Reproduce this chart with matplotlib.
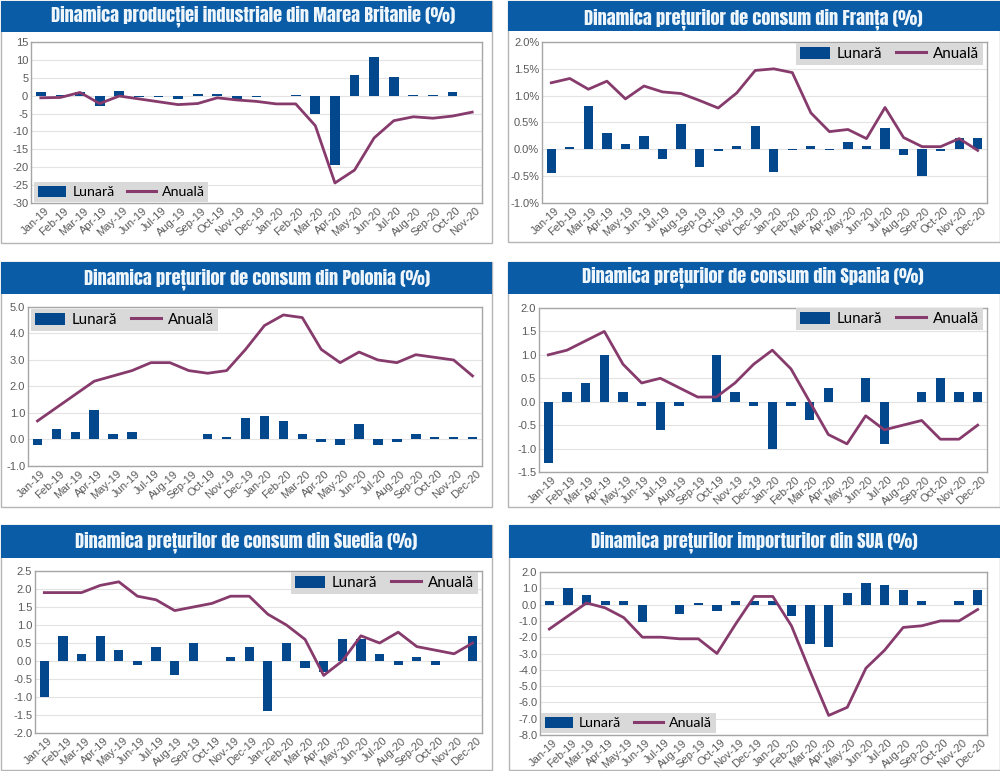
import numpy as np
import matplotlib
matplotlib.use('Agg')
import matplotlib.pyplot as plt
from matplotlib import font_manager as fm
from matplotlib.patches import Rectangle, Patch
from matplotlib.lines import Line2D
from matplotlib.transforms import ScaledTranslation

W, H = 1000, 771

months_20 = ['Jan-19', 'Feb-19', 'Mar-19', 'Apr-19', 'May-19', 'Jun-19', 'Jul-19', 'Aug-19',
             'Sep-19', 'Oct-19', 'Nov-19', 'Dec-19', 'Jan-20', 'Feb-20', 'Mar-20', 'Apr-20',
             'May-20', 'Jun-20', 'Jul-20', 'Aug-20', 'Sep-20', 'Oct-20', 'Nov-20', 'Dec-20']
months_uk = months_20[:-1]

# values
uk_lunara = [1.0, 0.1, 1.1, -3.0, 1.2, -0.3, -0.3, -0.8, 0.5, 0.5, -1.0, -0.3,
             0.0, 0.3, -5.2, -19.5, 5.8, 10.9, 5.1, 0.2, 0.3, 1.1, -0.1]
uk_anuala = [-0.6, -0.5, 0.9, -2.2, -0.1, -0.9, -1.7, -2.5, -2.2, -0.6, -1.2, -1.6,
             -2.3, -2.3, -8.4, -24.4, -20.8, -11.8, -7.0, -5.9, -6.3, -5.7, -4.6]
fr_lunara = [-0.44, 0.05, 0.80, 0.31, 0.10, 0.24, -0.18, 0.47, -0.33, -0.03, 0.06, 0.44,
             -0.42, -0.01, 0.06, -0.02, 0.14, 0.07, 0.39, -0.10, -0.50, -0.03, 0.21, 0.22]
fr_anuala = [1.24, 1.32, 1.12, 1.27, 0.94, 1.18, 1.07, 1.04, 0.91, 0.77, 1.05, 1.47,
             1.50, 1.43, 0.68, 0.33, 0.37, 0.20, 0.78, 0.22, 0.05, 0.05, 0.20, -0.02]
pl_lunara = [-0.2, 0.4, 0.3, 1.1, 0.2, 0.3, 0.0, 0.0, 0.0, 0.2, 0.1, 0.8,
             0.9, 0.7, 0.2, -0.1, -0.2, 0.6, -0.2, -0.1, 0.2, 0.1, 0.1, 0.1]
pl_anuala = [0.7, 1.2, 1.7, 2.2, 2.4, 2.6, 2.9, 2.9, 2.6, 2.5, 2.6, 3.4,
             4.3, 4.7, 4.6, 3.4, 2.9, 3.3, 3.0, 2.9, 3.2, 3.1, 3.0, 2.4]
es_lunara = [-1.3, 0.2, 0.4, 1.0, 0.2, -0.1, -0.6, -0.1, 0.0, 1.0, 0.2, -0.1,
             -1.0, -0.1, -0.4, 0.3, 0.0, 0.5, -0.9, 0.0, 0.2, 0.5, 0.2, 0.2]
es_anuala = [1.0, 1.1, 1.3, 1.5, 0.8, 0.4, 0.5, 0.3, 0.1, 0.1, 0.4, 0.8,
             1.1, 0.7, 0.0, -0.7, -0.9, -0.3, -0.6, -0.5, -0.4, -0.8, -0.8, -0.5]
se_lunara = [-1.0, 0.7, 0.2, 0.7, 0.3, -0.1, 0.4, -0.4, 0.5, 0.0, 0.1, 0.4,
             -1.4, 0.5, -0.2, -0.3, 0.6, 0.6, 0.2, -0.1, 0.1, -0.1, 0.0, 0.7]
se_anuala = [1.9, 1.9, 1.9, 2.1, 2.2, 1.8, 1.7, 1.4, 1.5, 1.6, 1.8, 1.8,
             1.3, 1.0, 0.6, -0.4, 0.0, 0.7, 0.5, 0.8, 0.4, 0.3, 0.2, 0.5]
us_lunara = [0.2, 1.0, 0.6, 0.2, 0.2, -1.05, 0.0, -0.6, 0.1, -0.4, 0.2, 0.2,
             0.2, -0.7, -2.4, -2.6, 0.7, 1.3, 1.2, 0.9, 0.2, -0.05, 0.2, 0.9]
us_anuala = [-1.5, -0.7, 0.1, -0.2, -0.8, -2.0, -2.0, -2.1, -2.1, -3.0, -1.2, 0.5,
             0.5, -1.3, -4.1, -6.8, -6.3, -3.9, -2.8, -1.4, -1.3, -1.0, -1.0, -0.3]

uk_ticks = [-30, -25, -20, -15, -10, -5, 0, 5, 10, 15]
fr_ticks = [-1.0, -0.5, 0.0, 0.5, 1.0, 1.5, 2.0]
pl_ticks = [-1.0, 0.0, 1.0, 2.0, 3.0, 4.0, 5.0]
es_ticks = [-1.5, -1.0, -0.5, 0.0, 0.5, 1.0, 1.5, 2.0]
se_ticks = [-2.0, -1.5, -1.0, -0.5, 0.0, 0.5, 1.0, 1.5, 2.0, 2.5]
us_ticks = [-8.0, -7.0, -6.0, -5.0, -4.0, -3.0, -2.0, -1.0, 0.0, 1.0, 2.0]

BLUE = '#03478C'
LINE = '#863B6C'
HEADER = '#0A5CA6'
TICK = '#5A5A5A'

plt.rcParams['font.family'] = ['Liberation Sans', 'DejaVu Sans']
fig = plt.figure(figsize=(W / 100, H / 100), dpi=100, facecolor='white')
renderer = fig.canvas.get_renderer()

# a condensed heavy face if there is one, titles get sized to their width anyway
installed = {f.name for f in fm.fontManager.ttflist}
title_fam = [f for f in ['Anton', 'Oswald', 'Barlow Condensed'] if f in installed] + ['Liberation Sans', 'DejaVu Sans']


def box(x0, y0, x1, y1):
    # pixel box (y down) to figure fractions
    return [x0 / W, 1 - y1 / H, (x1 - x0) / W, (y1 - y0) / H]


panels = [
    dict(title='Dinamica producției industriale din Marea Britanie (%)', cats=months_uk, lun=uk_lunara,
         anu=uk_anuala, ticks=uk_ticks, fmt='{:.0f}', card=(1, 1, 492, 243), head=32,
         ax=(31, 42, 482, 203), leg=(34, 182), legsize=10.2, tx=253, ty=16, tw=409),
    dict(title='Dinamica prețurilor de consum din Franța (%)', cats=months_20, lun=fr_lunara,
         anu=fr_anuala, ticks=fr_ticks, fmt='{:.1f}%', card=(508, 1, 1000, 242), head=31,
         ax=(542, 42, 987, 203), leg=(796, 43), legsize=10.9, tx=753, ty=19, tw=339),
    dict(title='Dinamica prețurilor de consum din Polonia (%)', cats=months_20, lun=pl_lunara,
         anu=pl_anuala, ticks=pl_ticks, fmt='{:.1f}', card=(1, 262, 492, 507), head=294,
         ax=(28, 307, 482, 466), leg=(31, 309), legsize=10.9, tx=257, ty=279, tw=348),
    dict(title='Dinamica prețurilor de consum din Spania (%)', cats=months_20, lun=es_lunara,
         anu=es_anuala, ticks=es_ticks, fmt='{:.1f}', card=(508, 262, 1000, 507), head=294,
         ax=(539, 308, 987, 472), leg=(796, 308), legsize=10.9, tx=753, ty=277, tw=343),
    dict(title='Dinamica prețurilor de consum din Suedia (%)', cats=months_20, lun=se_lunara,
         anu=se_anuala, ticks=se_ticks, fmt='{:.1f}', card=(1, 525, 492, 770), head=558,
         ax=(35, 571, 482, 733), leg=(291, 572), legsize=10.9, tx=246, ty=542, tw=344),
    dict(title='Dinamica prețurilor importurilor din SUA (%)', cats=months_20, lun=us_lunara,
         anu=us_anuala, ticks=us_ticks, fmt='{:.1f}', card=(509, 525, 1000, 770), head=558,
         ax=(540, 572, 987, 735), leg=(541, 713), legsize=10.2, tx=754, ty=542, tw=328),
]

label_shift = ScaledTranslation(10 / 100, 0, fig.dpi_scale_trans)

for p in panels:
    # white card and blue header, behind the axes
    x0, y0, x1, y1 = p['card']
    l, b, w, h = box(x0, y0, x1, y1)
    fig.add_artist(Rectangle((l, b), w, h, transform=fig.transFigure, fc='white', ec='#B5B5B5', lw=1, zorder=-2))
    l, b, w, h = box(x0, y0, x1, p['head'])
    fig.add_artist(Rectangle((l, b), w, h, transform=fig.transFigure, fc=HEADER, ec='none', zorder=-1))
    t = fig.text(p['tx'] / W, 1 - p['ty'] / H, p['title'], color='#EEF6FB', ha='center', va='center',
                 fontsize=14, family=title_fam)
    t.set_fontsize(14 * p['tw'] / t.get_window_extent(renderer).width)

    ax = fig.add_axes(box(*p['ax']))
    pos = np.arange(len(p['cats']))
    ax.bar(pos, p['lun'], width=0.5, color=BLUE, zorder=3)
    ax.plot(pos, p['anu'], color=LINE, lw=2.0, zorder=4, solid_joinstyle='round')

    ax.set_xlim(-0.5, len(p['cats']) - 0.5)
    ax.set_ylim(p['ticks'][0], p['ticks'][-1])
    ax.set_yticks(p['ticks'])
    ax.set_yticklabels([p['fmt'].format(v) for v in p['ticks']])
    ax.set_xticks(pos)
    ax.set_xticklabels(p['cats'], rotation=43, ha='right')
    ax.tick_params(axis='both', labelsize=8, labelcolor=TICK, length=0, pad=2)
    # tick_params resets the label transform, so shift after it
    for lab in ax.get_xticklabels():
        lab.set_transform(lab.get_transform() + label_shift)
    ax.grid(axis='y', color='#E3E3E3', lw=0.8, zorder=0)
    ax.set_axisbelow(True)
    for s in ax.spines.values():
        s.set_color('#A6A6A6')
        s.set_linewidth(1)

    # legend grey box, upper left corner pinned in pixels
    handles = [Patch(fc=BLUE, ec='none'), Line2D([], [], color=LINE, lw=2.2)]
    lg = fig.legend(handles, ['Lunară', 'Anuală'], ncol=2, loc='upper left',
                    bbox_to_anchor=(p['leg'][0] / W, 1 - p['leg'][1] / H), bbox_transform=fig.transFigure,
                    prop={'family': 'Lato', 'size': p['legsize']}, frameon=True, fancybox=False,
                    facecolor='#D9D9D9', edgecolor='none', framealpha=1, borderpad=0.25,
                    borderaxespad=0, handlelength=2.0, handleheight=0.85, handletextpad=0.45,
                    columnspacing=0.9)
    lg.set_zorder(10)

fig.savefig('out.png', dpi=100)
